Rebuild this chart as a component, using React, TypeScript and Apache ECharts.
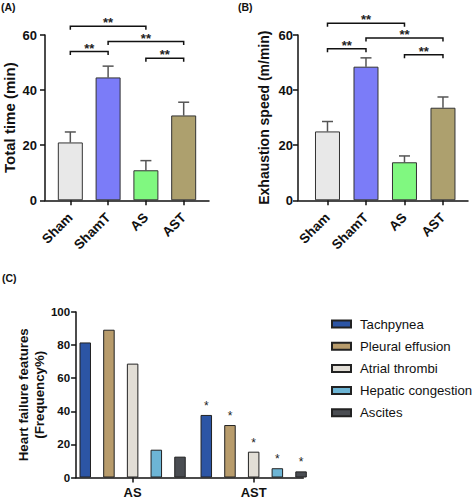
import React, { useEffect, useRef } from "react";
import * as echarts from "echarts";

const groupsAB = ["Sham", "ShamT", "AS", "AST"];
const timeMean = [21.0, 44.6, 10.9, 30.8];
const timeUpper = [24.8, 48.7, 14.4, 35.6];
const speedMean = [25.0, 48.5, 13.8, 33.6];
const speedUpper = [28.6, 51.7, 16.1, 37.5];
const barColorsAB = ["#E8E8E8", "#7B7CF8", "#80F880", "#ADA06E"];
// [from group, to group, bracket level]
const timeSig = [[0, 2, 63.2], [0, 1, 54.0], [1, 3, 57.6], [2, 3, 51.6]];
const speedSig = [[0, 2, 64.3], [0, 1, 55.0], [1, 3, 58.9], [2, 3, 52.8]];

const groupsC = ["AS", "AST"];
const featureNames = ["Tachpynea", "Pleural effusion", "Atrial thrombi", "Hepatic congestion", "Ascites"];
const featureAS = [81.6, 89.3, 68.8, 16.8, 12.6];
const featureAST = [37.8, 31.7, 15.6, 5.6, 3.7];
const featureColors = ["#2C55A5", "#B89C6C", "#E2DED6", "#6DB5D5", "#4A4D52"];

const FONT = "'Liberation Sans', Arial, Helvetica, sans-serif";

function errorRender(params: any, api: any) {
  const x = api.value(0);
  const p0 = api.coord([x, api.value(1)]);
  const p1 = api.coord([x, api.value(2)]);
  const st = { stroke: "#555", lineWidth: 1.5 };
  return {
    type: "group",
    children: [
      { type: "line", shape: { x1: p0[0], y1: p0[1], x2: p1[0], y2: p1[1] }, style: st },
      { type: "line", shape: { x1: p1[0] - 5.5, y1: p1[1], x2: p1[0] + 5.5, y2: p1[1] }, style: st },
    ],
  };
}

function bracketRender(params: any, api: any) {
  const a = api.coord([api.value(0), api.value(2)]);
  const b = api.coord([api.value(1), api.value(2)]);
  const st = { stroke: "#111", lineWidth: 1.5, fill: "none" };
  return {
    type: "group",
    children: [
      {
        type: "polyline",
        shape: { points: [[a[0], a[1] + 3.5], [a[0], a[1]], [b[0], b[1]], [b[0], b[1] + 3.5]] },
        style: st,
      },
      {
        type: "text",
        x: (a[0] + b[0]) / 2,
        y: a[1] - 3.5,
        style: {
          text: "**",
          fill: "#222",
          fontSize: 13,
          fontWeight: "bold",
          fontFamily: FONT,
          align: "center",
          verticalAlign: "middle",
        },
      },
    ],
  };
}

function yAxisBase(gridIndex: number, max: number, interval: number, name: string, nameSize: number, nameGap: number, labelSize: number, labelMargin: number) {
  return {
    type: "value",
    gridIndex,
    min: 0,
    max,
    interval,
    name,
    nameLocation: "middle",
    nameGap,
    nameTextStyle: { fontSize: nameSize, fontWeight: "bold", color: "#111", fontFamily: FONT, lineHeight: 16 },
    axisLine: { show: true, onZero: false, lineStyle: { color: "#111", width: 1.5 } },
    axisTick: { show: true, length: 5, lineStyle: { color: "#111", width: 1.5 } },
    axisLabel: { fontSize: labelSize, fontWeight: "bold", color: "#111", fontFamily: FONT, margin: labelMargin },
    splitLine: { show: false },
  };
}

function xAxisBase(gridIndex: number, min: number, max: number, cats: string[], rotate: number, size: number, margin: number) {
  const vals = cats.map((_, i) => i);
  return {
    type: "value",
    gridIndex,
    min,
    max,
    axisLine: { show: true, onZero: false, lineStyle: { color: "#111", width: 1.5 } },
    axisTick: { show: true, customValues: vals, length: 5, lineStyle: { color: "#111", width: 1.5 } },
    axisLabel: {
      customValues: vals,
      formatter: (v: number) => cats[Math.round(v)] ?? "",
      rotate,
      fontSize: size,
      fontWeight: "bold",
      color: "#111",
      fontFamily: FONT,
      margin,
    },
    splitLine: { show: false },
  };
}

export default function App() {
  const ref = useRef<HTMLDivElement>(null);
  useEffect(() => {
    document.body.style.margin = "0";
    const chart = echarts.init(ref.current!, null, { renderer: "svg" });
    const barData = (means: number[]) =>
      means.map((m, i) => ({ value: [i, m], itemStyle: { color: barColorsAB[i] } }));
    const cSeries = featureNames.map((name, k) => ({
      type: "bar",
      name,
      xAxisIndex: 2,
      yAxisIndex: 2,
      barWidth: 11.5,
      barGap: "106%",
      itemStyle: { color: featureColors[k], borderColor: "#222", borderWidth: 1 },
      label: { show: false },
      data: [
        { value: [0, featureAS[k]] },
        {
          value: [1, featureAST[k]],
          label: {
            show: true,
            position: "top",
            distance: 3,
            formatter: "*",
            fontSize: 12,
            color: "#222",
            fontFamily: FONT,
          },
        },
      ],
    }));
    chart.setOption({
      animation: false,
      textStyle: { fontFamily: FONT },
      title: [
        { text: "(A)", left: 1, top: 1, padding: 0, textStyle: { fontSize: 10.5, fontWeight: "bold", color: "#111", fontFamily: FONT } },
        { text: "(B)", left: 238, top: 1, padding: 0, textStyle: { fontSize: 10.5, fontWeight: "bold", color: "#111", fontFamily: FONT } },
        { text: "(C)", left: 2, top: 272, padding: 0, textStyle: { fontSize: 10.5, fontWeight: "bold", color: "#111", fontFamily: FONT } },
      ],
      legend: {
        data: featureNames,
        orient: "vertical",
        left: 331,
        top: 317,
        padding: 0,
        icon: "rect",
        itemWidth: 19,
        itemHeight: 7,
        itemGap: 8.2,
        textStyle: { fontSize: 13.2, color: "#111", lineHeight: 14, fontFamily: FONT, padding: [0, 0, 0, 4] },
      },
      grid: [
        { left: 42.3, top: 35, width: 166.7, height: 165.3 },
        { left: 298, top: 35, width: 170, height: 165.3 },
        { left: 58.3, top: 312, width: 245, height: 165.5 },
      ],
      xAxis: [
        xAxisBase(0, -0.67, 3.67, groupsAB, 45, 13.5, 15),
        xAxisBase(1, -0.766, 3.65, groupsAB, 45, 13.5, 15),
        xAxisBase(2, -0.467, 1.41, groupsC, 0, 13, 8),
      ],
      yAxis: [
        yAxisBase(0, 60, 20, "Total time (min)", 15, 28, 13, 8),
        yAxisBase(1, 60, 20, "Exhaustion speed (m/min)", 14, 26, 13, 5),
        yAxisBase(2, 100, 20, "Heart failure features\n(Frequency%)", 13.3, 26.5, 11.5, 6),
      ],
      series: [
        {
          type: "bar",
          xAxisIndex: 0,
          yAxisIndex: 0,
          barWidth: 25,
          itemStyle: { borderColor: "#333", borderWidth: 1 },
          data: barData(timeMean),
          z: 3,
        },
        {
          type: "custom",
          xAxisIndex: 0,
          yAxisIndex: 0,
          renderItem: errorRender,
          encode: { x: 0, y: [1, 2] },
          data: timeMean.map((m, i) => [i, m, timeUpper[i]]),
          z: 2,
        },
        {
          type: "custom",
          xAxisIndex: 0,
          yAxisIndex: 0,
          renderItem: bracketRender,
          encode: { x: [0, 1], y: 2 },
          clip: false,
          data: timeSig,
        },
        {
          type: "bar",
          xAxisIndex: 1,
          yAxisIndex: 1,
          barWidth: 25,
          itemStyle: { borderColor: "#333", borderWidth: 1 },
          data: barData(speedMean),
          z: 3,
        },
        {
          type: "custom",
          xAxisIndex: 1,
          yAxisIndex: 1,
          renderItem: errorRender,
          encode: { x: 0, y: [1, 2] },
          data: speedMean.map((m, i) => [i, m, speedUpper[i]]),
          z: 2,
        },
        {
          type: "custom",
          xAxisIndex: 1,
          yAxisIndex: 1,
          renderItem: bracketRender,
          encode: { x: [0, 1], y: 2 },
          clip: false,
          data: speedSig,
        },
        ...cSeries,
      ],
    });
    return () => chart.dispose();
  }, []);
  return <div ref={ref} style={{ width: 474, height: 500 }} />;
}
